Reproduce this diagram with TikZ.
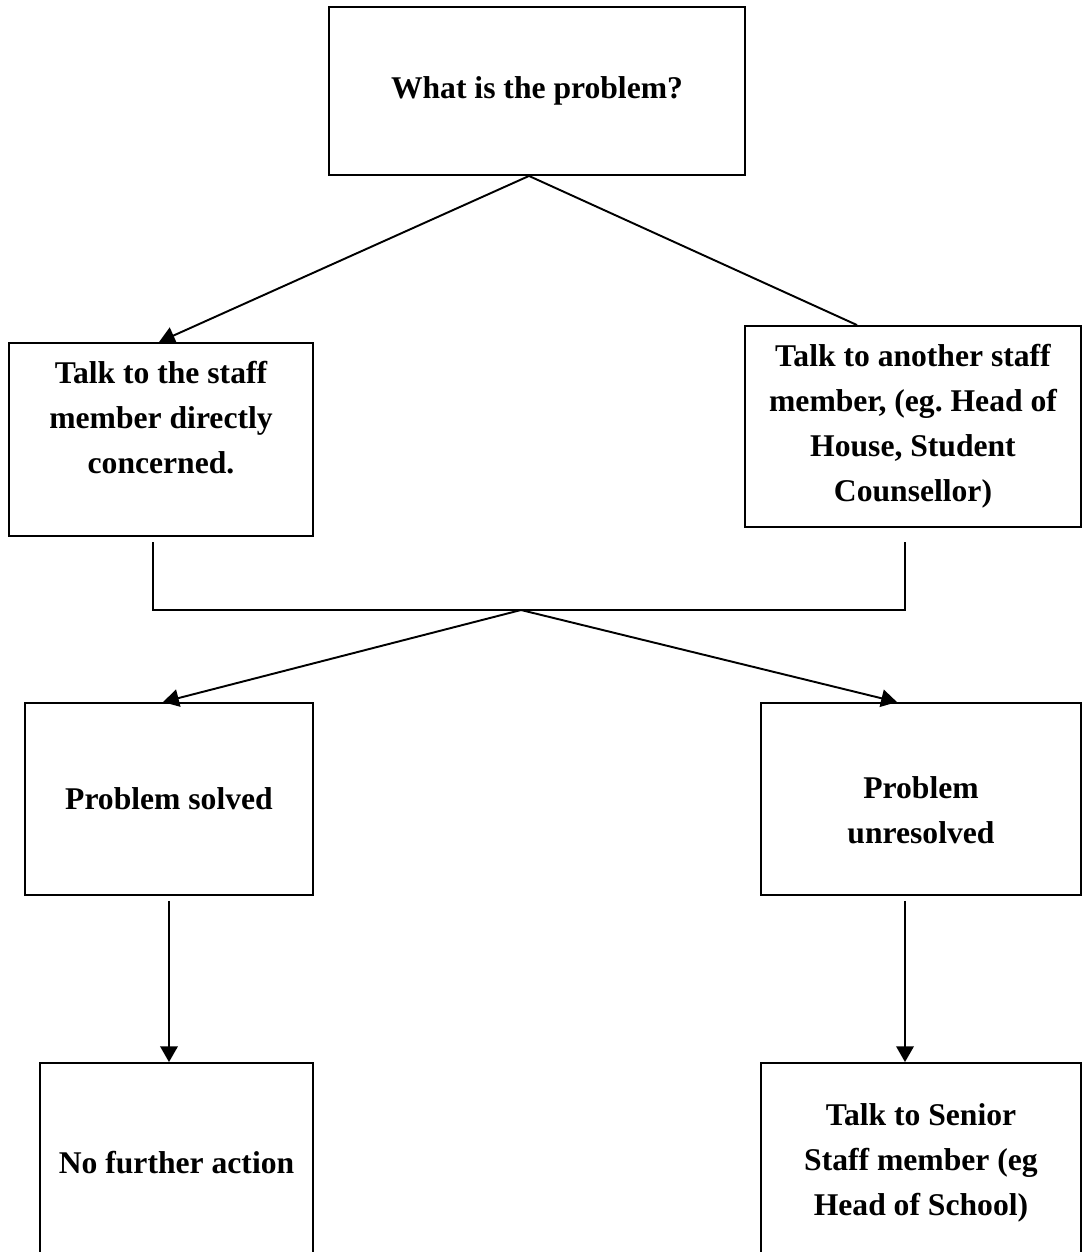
\documentclass[tikz,border=0pt]{standalone}
\usepackage{fontspec}
\setmainfont{Liberation Serif}
\frenchspacing
\usetikzlibrary{arrows.meta, positioning}
\tikzset{
    x=0.02cm, y=-0.02cm, % one unit is one pixel of the sketch
    box/.style={draw, line width=1.1pt, align=center, inner sep=0pt,
                font=\fontsize{18}{25.6}\selectfont\bfseries}, % every box of the chart
    link/.style={line width=1.1pt}, % plain connector
    arrow/.style={link, -{Triangle[length=9pt, width=10pt]}}, % connector with a head
}

\begin{document}
\begin{tikzpicture}
    \useasboundingbox (0,0) rectangle (1090,1252);
    \node[box, minimum width=8.32cm, minimum height=3.36cm] (problem) at (537,91) {What is the problem?};
    \node[box, minimum width=6.08cm, minimum height=3.86cm] (staff) at (161,439.5) {Talk to the staff\\member directly\\concerned.\\\mbox{}};
    \node[box, minimum width=6.72cm, minimum height=4.02cm] (other) at (913,426.5) {Talk to another staff\\member, (eg. Head of\\House, Student\\Counsellor)};
    \node[box, minimum width=5.76cm, minimum height=3.84cm] (solved) at (169,799) {Problem solved};
    \node[box, minimum width=6.4cm, minimum height=3.84cm] (unres) at (921,799) {\mbox{}\\Problem\\unresolved};
    \node[box, minimum width=5.46cm, minimum height=3.98cm] (noaction) at (176.5,1162.5) {No further action};
    \node[box, minimum width=6.4cm, minimum height=3.98cm] (senior) at (921,1162.5) {Talk to Senior\\Staff member (eg\\Head of School)};

    \coordinate (jl) at (153,542);
    \coordinate (jr) at (905,542);
    \coordinate (join) at (521,610);

    \draw[arrow] ([xshift=-0.16cm]problem.south) -- ([xshift=-0.04cm]staff.north);
    \draw[link] ([xshift=-0.16cm]problem.south) -- ([xshift=-1.12cm]other.north);
    \draw[link] (jl) |- (join) -| (jr);
    \draw[arrow] (join) -- ([xshift=-0.12cm]solved.north);
    \draw[arrow] (join) -- ([xshift=-0.48cm]unres.north);
    \draw[arrow] ([yshift=-0.1cm]solved.south) -- (solved.south |- noaction.north);
    \draw[arrow] ([xshift=-0.32cm, yshift=-0.1cm]unres.south) -- ([xshift=-0.32cm]senior.north);
\end{tikzpicture}
\end{document}
